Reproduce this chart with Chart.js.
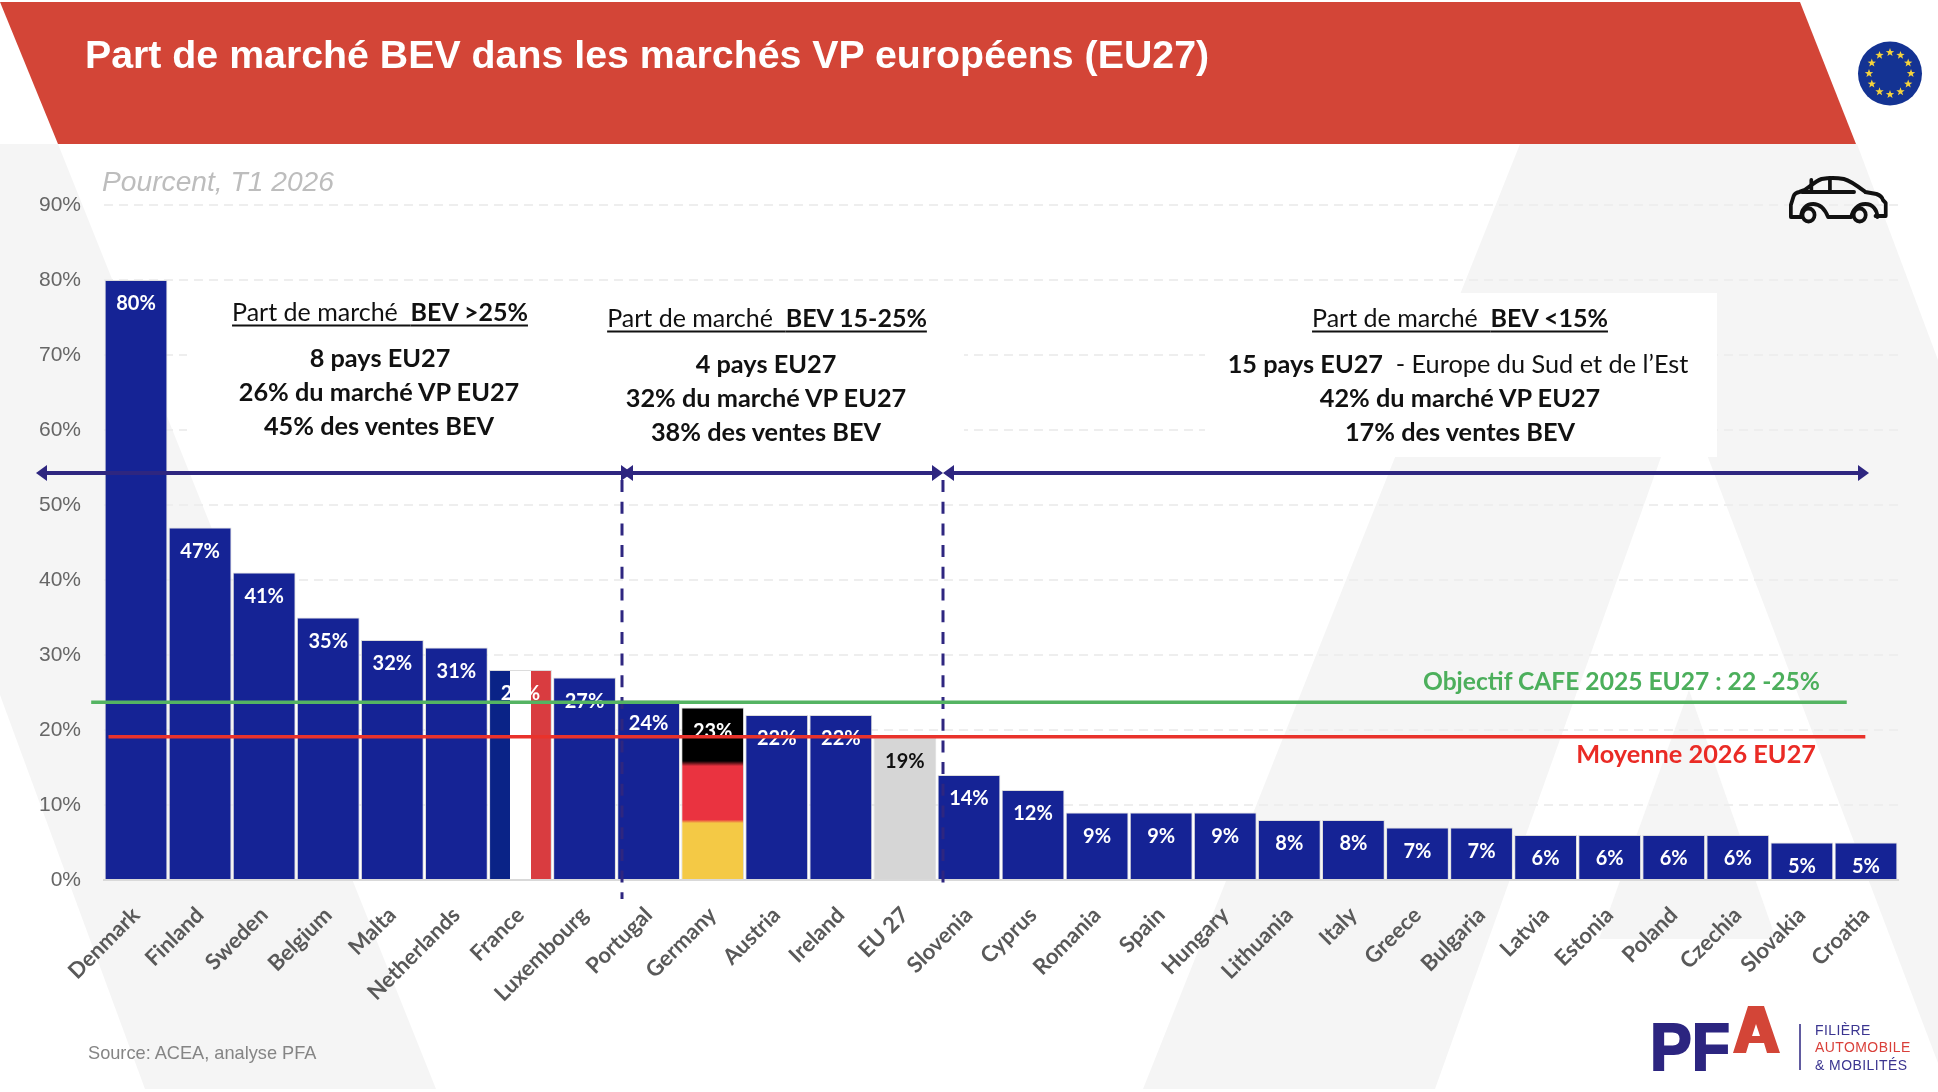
<!DOCTYPE html>
<html lang="fr">
<head>
<meta charset="utf-8">
<title>Part de marché BEV</title>
<script src="https://cdn.jsdelivr.net/npm/chart.js@4/dist/chart.umd.min.js"></script>
<style>
  html, body { margin: 0; padding: 0; background: #fff; }
  #page { position: relative; width: 1938px; height: 1092px; overflow: hidden; font-family: "Liberation Sans", sans-serif; }
  #page svg.layer { position: absolute; left: 0; top: 0; }
  #chart { position: absolute; left: 0; top: 0; }
  .txt { position: absolute; white-space: nowrap; transform: translateY(-50%); line-height: 1; }
  .mid { transform: translate(-50%, -50%); }
  .end { transform: translate(-100%, -50%); }
  .lato { font-family: Lato, sans-serif; font-size: 25.3px; font-weight: 700; color: #111; }
  .head { font-size: 25px; font-weight: 400; text-decoration: underline; text-decoration-thickness: 2px; text-underline-offset: 4px; }
  .head b { font-weight: 700; }
  .reg { font-weight: 400; }
  .brand { font-size: 15.5px; letter-spacing: 0.5px; transform: translateY(-50%) scaleX(0.9); transform-origin: left center; }
</style>
</head>
<body>
<div id="page">
  <!-- grey watermark and header band, behind the chart -->
  <svg class="layer" width="1938" height="1092">
    <g fill="#f5f5f5">
      <polygon points="0,144 58,144 436,1089 145,1089 0,695"/>
      <polygon points="1520,144 1773,144 1435,1089 1143,1089"/>
      <polygon points="1589,144 1857,144 1938,360 1938,1063"/>
      <polygon points="1689,690 1599,939 1776,939"/>
    </g>
    <polygon points="0,2 1800,2 1856,144 58,144" fill="#d34537"/>
  </svg>

  <canvas id="chart" width="1938" height="1092"></canvas>

  <svg class="layer" width="1938" height="1092">
    <g id="flag">
      <circle cx="1890" cy="73.5" r="32" fill="#143393"/>
    </g>
    <!-- car pictogram -->
    <g transform="translate(1789 180) scale(0.93 1) translate(-1789 -177)" fill="none" stroke="#111" stroke-width="4" stroke-linecap="round" stroke-linejoin="round">
      <path d="M1802 214 h-11 v-12 l3 -9 q1 -3 6 -4 l6 -2 c6 -4 12 -9 18 -11 q12 -2 24 0 c8 2 16 8 23 13 l12 2 q6 2 7 6 l3 3 v13 h-11"/>
      <path d="M1802 214 c0 -7 5 -13 13 -13 c8 0 13 6 16 13 h25 c1 -7 7 -13 15 -13 c8 0 13 6 13 13"/>
      <circle cx="1810" cy="212" r="6.5"/>
      <circle cx="1865" cy="212" r="6.5"/>
      <path d="M1803 189 h56 M1813 188 v-11 M1833 188 v-13"/>
    </g>
    <!-- PFA mark -->
    <text x="1650" y="1070" font-family="Liberation Sans" font-weight="700" font-size="66" fill="#2c2580" textLength="80" lengthAdjust="spacingAndGlyphs" stroke="#2c2580" stroke-width="2">PF</text>
    <path fill-rule="evenodd" fill="#d34537" d="M1733 1053 L1748 1006 H1764 L1780 1053 H1767 L1764 1043 H1749 L1746 1053 Z M1756 1024 L1752 1036 H1760 Z"/>
    <line x1="1800" y1="1024" x2="1800" y2="1070" stroke="#2c2580" stroke-width="1.5"/>
  </svg>

  <div class="txt" style="left:85px;top:55px;font-size:39.3px;font-weight:700;color:#fff">Part de marché BEV dans les marchés VP européens (EU27)</div>
  <div class="txt" style="left:102px;top:181px;font-size:28.2px;font-style:italic;color:#bdbdbd">Pourcent, T1 2026</div>
  <div class="txt" style="left:88px;top:1053px;font-size:18.2px;color:#858585">Source: ACEA, analyse PFA</div>

  <div class="txt mid lato head" style="left:380px;top:311px">Part de marché&nbsp; <b>BEV &gt;25%</b></div>
  <div class="txt mid lato" style="left:380px;top:358px">8 pays EU27</div>
  <div class="txt mid lato" style="left:379px;top:392px">26% du marché VP EU27</div>
  <div class="txt mid lato" style="left:379px;top:426px">45% des ventes BEV</div>

  <div class="txt mid lato head" style="left:767px;top:317px">Part de marché&nbsp; <b>BEV 15-25%</b></div>
  <div class="txt mid lato" style="left:766px;top:364px">4 pays EU27</div>
  <div class="txt mid lato" style="left:766px;top:398px">32% du marché VP EU27</div>
  <div class="txt mid lato" style="left:766px;top:432px">38% des ventes BEV</div>

  <div class="txt mid lato head" style="left:1460px;top:317px">Part de marché&nbsp; <b>BEV &lt;15%</b></div>
  <div class="txt mid lato" style="left:1458px;top:364px">15 pays EU27 <span class="reg">&nbsp;- Europe du Sud et de l’Est</span></div>
  <div class="txt mid lato" style="left:1460px;top:398px">42% du marché VP EU27</div>
  <div class="txt mid lato" style="left:1460px;top:432px">17% des ventes BEV</div>

  <div class="txt end lato" style="left:1820px;top:681px;font-size:24.6px;color:#4caf5c">Objectif CAFE 2025 EU27 : 22 -25%</div>
  <div class="txt end lato" style="left:1816px;top:754px;color:#ea2b25">Moyenne 2026 EU27</div>

  <div class="txt brand" style="left:1815px;top:1030px;color:#3b3590">FILIÈRE</div>
  <div class="txt brand" style="left:1815px;top:1047px;color:#d9403a">AUTOMOBILE</div>
  <div class="txt brand" style="left:1815px;top:1065px;color:#3b3590">&amp; MOBILITÉS</div>
</div>

<script>
  const categories = ["Denmark", "Finland", "Sweden", "Belgium", "Malta", "Netherlands", "France", "Luxembourg",
    "Portugal", "Germany", "Austria", "Ireland", "EU 27", "Slovenia", "Cyprus", "Romania", "Spain", "Hungary",
    "Lithuania", "Italy", "Greece", "Bulgaria", "Latvia", "Estonia", "Poland", "Czechia", "Slovakia", "Croatia"];
  const bevShare = [80, 47, 41, 35, 32, 31, 28, 27, 24, 23, 22, 22, 19, 14, 12, 9, 9, 9, 8, 8, 7, 7, 6, 6, 6, 6, 5, 5];
  const yTicks = [0, 10, 20, 30, 40, 50, 60, 70, 80, 90];
  const cafeTarget = 23.7;
  const euAverage = 19.1;
  // how far each level line runs, in category widths from the left of the plot
  const cafeSpan = [-0.2, 27.2];
  const averageSpan = [0.07, 27.49];

  const NAVY = "#152395";
  const ARROW = "#2e2680";

  // EU flag stars
  const flag = document.getElementById("flag");
  for (let i = 0; i < 12; i += 1) {
    const a = (i * Math.PI) / 6;
    const cx = 1890 + 21 * Math.sin(a);
    const cy = 73.5 - 21 * Math.cos(a);
    let pts = "";
    for (let k = 0; k < 10; k += 1) {
      const r = k % 2 ? 1.8 : 4.4;
      const b = (k * Math.PI) / 5;
      pts += `${cx + r * Math.sin(b)},${cy - r * Math.cos(b)} `;
    }
    const star = document.createElementNS("http://www.w3.org/2000/svg", "polygon");
    star.setAttribute("points", pts);
    star.setAttribute("fill", "#f5d33c");
    flag.appendChild(star);
  }

  // France and Germany get their flags, EU 27 is grey
  const barFill = (ctx) => {
    if (ctx.type !== "data") return NAVY;
    const name = categories[ctx.dataIndex];
    const { x, y } = ctx.chart.scales;
    if (name === "EU 27") return "#d6d6d6";
    if (name === "France") {
      const c = x.getPixelForValue(ctx.dataIndex);
      const g = ctx.chart.ctx.createLinearGradient(c - 31, 0, c + 31, 0);
      g.addColorStop(0, "#0a2387"); g.addColorStop(1 / 3, "#0a2387");
      g.addColorStop(1 / 3, "#ffffff"); g.addColorStop(2 / 3, "#ffffff");
      g.addColorStop(2 / 3, "#d93c40"); g.addColorStop(1, "#d93c40");
      return g;
    }
    if (name === "Germany") {
      const top = y.getPixelForValue(bevShare[ctx.dataIndex]);
      const bottom = y.getPixelForValue(0);
      const g = ctx.chart.ctx.createLinearGradient(0, top, 0, bottom);
      g.addColorStop(0, "#000000"); g.addColorStop(0.31, "#000000");
      g.addColorStop(0.34, "#ea3340"); g.addColorStop(0.65, "#ea3340");
      g.addColorStop(0.67, "#f4c945"); g.addColorStop(1, "#f4c945");
      return g;
    }
    return NAVY;
  };

  // blank panels behind the three text blocks
  const panels = {
    id: "panels",
    beforeDatasetsDraw(chart) {
      const c = chart.ctx;
      c.save();
      c.fillStyle = "#fff";
      c.fillRect(187, 295, 777, 163);
      c.fillRect(1205, 293, 512, 164);
      c.restore();
    }
  };

  const arrowHead = (c, x, y, dir) => {
    c.beginPath();
    c.moveTo(x, y);
    c.lineTo(x - dir * 11, y - 8);
    c.lineTo(x - dir * 11, y + 8);
    c.closePath();
    c.fill();
  };

  // value labels, market brackets and the two level lines, in that order above the bars
  const barExtras = {
    id: "barExtras",
    afterDatasetsDraw(chart) {
      const c = chart.ctx;
      const { x, y } = chart.scales;
      c.save();
      c.font = "700 20px Lato";
      c.textAlign = "center";
      c.textBaseline = "middle";
      chart.getDatasetMeta(0).data.forEach((bar, i) => {
        c.fillStyle = categories[i] === "EU 27" ? "#111" : "#fff";
        c.fillText(`${bevShare[i]}%`, bar.x, bar.y + 24);
      });

      c.strokeStyle = ARROW;
      c.lineWidth = 3;
      c.setLineDash([12, 9.7]);
      [[622, 899], [943, 887]].forEach(([px, bottom]) => {
        c.beginPath();
        c.moveTo(px, 480);
        c.lineTo(px, bottom);
        c.stroke();
      });
      c.setLineDash([]);

      const yArrow = 473;
      c.fillStyle = ARROW;
      c.lineWidth = 4;
      [[36, 632], [622, 943], [943, 1869]].forEach(([a, b]) => {
        c.beginPath();
        c.moveTo(a + 6, yArrow);
        c.lineTo(b - 6, yArrow);
        c.stroke();
        arrowHead(c, a, yArrow, -1);
        arrowHead(c, b, yArrow, 1);
      });

      const step = x.width / categories.length;
      [[cafeTarget, cafeSpan, "#54b462"], [euAverage, averageSpan, "#e9322b"]].forEach(([level, span, colour]) => {
        const py = y.getPixelForValue(level);
        c.strokeStyle = colour;
        c.lineWidth = 3.5;
        c.beginPath();
        c.moveTo(x.left + span[0] * step, py);
        c.lineTo(x.left + span[1] * step, py);
        c.stroke();
      });
      c.restore();
    }
  };

  new Chart(document.getElementById("chart"), {
    type: "bar",
    data: {
      labels: categories,
      datasets: [
        {
          data: bevShare,
          backgroundColor: barFill,
          borderColor: "#dcdcdc",
          borderWidth: 1,
          barPercentage: 0.98,
          categoryPercentage: 1
        }
      ]
    },
    options: {
      responsive: false,
      animation: false,
      events: [],
      layout: { padding: { top: 205, right: 40, left: 0, bottom: 0 } },
      plugins: { legend: { display: false }, tooltip: { enabled: false } },
      scales: {
        x: {
          offset: true,
          grid: { display: false },
          border: { color: "#d9d9d9", width: 2 },
          afterFit: (s) => { s.height = 212; },
          ticks: {
            autoSkip: false,
            maxRotation: 45,
            minRotation: 45,
            padding: 14,
            color: "#595959",
            font: { family: "Lato", weight: "700", size: 22 }
          }
        },
        y: {
          min: yTicks[0],
          max: yTicks[yTicks.length - 1],
          afterFit: (s) => { s.width = 104; },
          afterBuildTicks: (s) => { s.ticks = yTicks.map((value) => ({ value })); },
          grid: { color: "#eeeeee", lineWidth: 2, drawTicks: false },
          border: { display: false, dash: [9, 6] },
          ticks: {
            padding: 23,
            color: "#666666",
            font: { family: "Liberation Sans", size: 21 },
            callback: (v) => `${v}%`
          }
        }
      }
    },
    plugins: [panels, barExtras]
  });
</script>
</body>
</html>
